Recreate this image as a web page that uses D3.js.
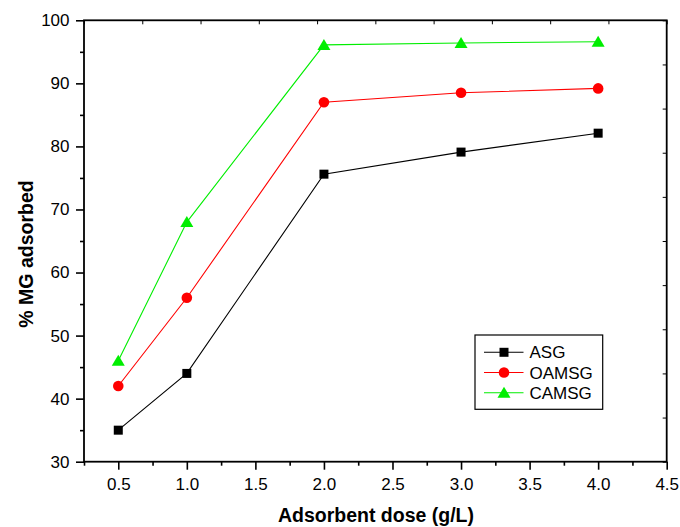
<!DOCTYPE html>
<html><head><meta charset="utf-8">
<script src="https://cdn.jsdelivr.net/npm/d3@7"></script>
<style>body{margin:0;background:#fff}svg{display:block;font-family:"Liberation Sans",Arial,sans-serif}</style>
</head><body><svg id="c" width="680" height="527"></svg>
<script>
const doses = [0.5, 1.0, 2.0, 3.0, 4.0];
const asg = [35, 44, 75.6, 79.1, 82.1];
const oamsg = [42, 56, 87, 88.5, 89.2];
const camsg = [46, 68, 96.1, 96.4, 96.6];
const seriesNames = ["ASG", "OAMSG", "CAMSG"];
const xTicks = [0.5, 1.0, 1.5, 2.0, 2.5, 3.0, 3.5, 4.0, 4.5];
const yTicks = [30, 40, 50, 60, 70, 80, 90, 100];

const svg = d3.select("#c");
const L = 84, R = 666.7, T = 20.3, B = 461.7;
const x = d3.scaleLinear().domain([0.25, 4.5]).range([L, R]);
const y = d3.scaleLinear().domain([30, 100]).range([B, T]);

const series = [
  {name: seriesNames[0], vals: asg, color: "#000000", line: "#000000", shape: "square"},
  {name: seriesNames[1], vals: oamsg, color: "#ff0000", line: "#ff0000", shape: "circle"},
  {name: seriesNames[2], vals: camsg, color: "#00ee00", line: "#00ee00", shape: "triangle"}
];

// frame
svg.append("rect").attr("x", L).attr("y", T).attr("width", R - L).attr("height", B - T)
  .attr("fill", "none").attr("stroke", "#000").attr("stroke-width", 1.8);

// bottom axis
const xAx = svg.append("g").attr("transform", `translate(0,${B})`)
  .call(d3.axisBottom(x).tickValues(xTicks).tickFormat(d3.format(".1f")).tickSize(8).tickPadding(8.5));
const xMinor = svg.append("g").attr("transform", `translate(0,${B})`)
  .call(d3.axisBottom(x).tickValues(d3.range(0.25, 4.5, 0.5)).tickFormat("").tickSize(4));
// left axis
const yAx = svg.append("g").attr("transform", `translate(${L},0)`)
  .call(d3.axisLeft(y).tickValues(yTicks).tickSize(8).tickPadding(6.5));
const yMinor = svg.append("g").attr("transform", `translate(${L},0)`)
  .call(d3.axisLeft(y).tickValues(d3.range(35, 100, 10)).tickFormat("").tickSize(4));
[xAx, xMinor, yAx, yMinor].forEach(g => {
  g.select(".domain").remove();
  g.selectAll("line").attr("stroke", "#000").attr("stroke-width", 1.6);
  g.selectAll("text").attr("font-size", 17).attr("fill", "#000")
    .attr("font-family", "Liberation Sans, Arial, sans-serif");
});

// top & right inward ticks (10 divisions)
const xt = d3.scaleLinear().domain([0, 10]).range([L, R]);
const yr = d3.scaleLinear().domain([0, 10]).range([B, T]);
svg.append("g").attr("transform", `translate(0,${T})`)
  .call(d3.axisTop(xt).ticks(10).tickFormat("").tickSize(-4))
  .call(g => { g.select(".domain").remove(); g.selectAll("line").attr("stroke", "#000").attr("stroke-width", 1); });
svg.append("g").attr("transform", `translate(${R},0)`)
  .call(d3.axisRight(yr).ticks(10).tickFormat("").tickSize(-4))
  .call(g => { g.select(".domain").remove(); g.selectAll("line").attr("stroke", "#000").attr("stroke-width", 1); });

// markers
function marker(g, shape, cx, cy, color) {
  if (shape === "square") {
    g.append("rect").attr("x", cx - 4.5).attr("y", cy - 4.5).attr("width", 9).attr("height", 9).attr("fill", color);
  } else if (shape === "circle") {
    g.append("circle").attr("cx", cx).attr("cy", cy).attr("r", 5.3).attr("fill", color);
  } else {
    g.append("path").attr("d", `M${cx},${cy - 6}L${cx + 6.5},${cy + 5}L${cx - 6.5},${cy + 5}Z`).attr("fill", color);
  }
}

const line = d3.line().x(d => x(d[0])).y(d => y(d[1]));
series.forEach(s => {
  const pts = doses.map((d, i) => [d, s.vals[i]]);
  svg.append("path").datum(pts).attr("d", line).attr("fill", "none")
    .attr("stroke", s.line).attr("stroke-width", 1.1);
  const g = svg.append("g");
  pts.forEach(p => marker(g, s.shape, x(p[0]), y(p[1]), s.color));
});

// legend
const lg = svg.append("g");
lg.append("rect").attr("x", 475).attr("y", 335).attr("width", 127.7).attr("height", 74.3)
  .attr("fill", "#fff").attr("stroke", "#000").attr("stroke-width", 1.2);
series.forEach((s, i) => {
  const ly = 352.3 + i * 20.2;
  lg.append("line").attr("x1", 484).attr("x2", 523.5).attr("y1", ly).attr("y2", ly)
    .attr("stroke", s.line).attr("stroke-width", 1.1);
  marker(lg, s.shape, 504, ly, s.color);
  lg.append("text").attr("x", 529.5).attr("y", ly + 6).attr("font-size", 17).text(s.name);
});

// axis titles
svg.append("text").attr("x", 376).attr("y", 521.5).attr("text-anchor", "middle")
  .attr("font-size", 19.5).attr("font-weight", "bold").text("Adsorbent dose (g/L)");
svg.append("text").attr("transform", "translate(33,254) rotate(-90)").attr("text-anchor", "middle")
  .attr("font-size", 19.5).attr("font-weight", "bold").text("% MG adsorbed");
</script></body></html>
